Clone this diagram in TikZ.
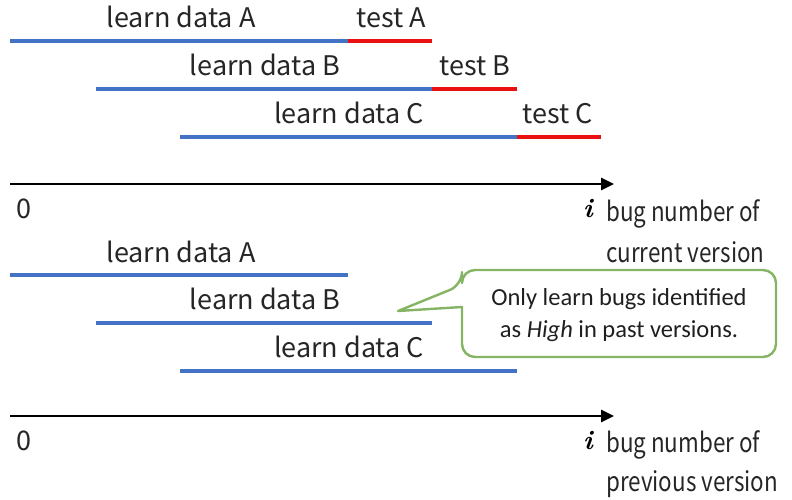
\documentclass[tikz,border=0pt]{standalone}
\usepackage{fontspec}
\usetikzlibrary{arrows.meta}
\newfontfamily\lblfont{Noto Sans CJK JP}
\newfontfamily\callfont{Carlito}
\definecolor{lineblue}{HTML}{4472C4}
\definecolor{linered}{HTML}{E81010}
\definecolor{callgreen}{HTML}{84B464}
\definecolor{txtgray}{HTML}{262626}
\newcommand{\narrowtxt}[1]{\scalebox{0.83}[1]{#1}}
\begin{document}
\begin{tikzpicture}[x=1pt,y=-1pt,
  lbl/.style={inner sep=0pt,anchor=base,text=txtgray,font=\lblfont\fontsize{27}{32}\selectfont},
  lblw/.style={lbl,anchor=base west},
  bluel/.style={draw=lineblue,line width=3.5pt},
  redl/.style={draw=linered,line width=3.5pt},
  axis/.style={draw=black,line width=2.6pt,-{Triangle[length=13pt,width=12pt]}},
  ivar/.style={inner sep=0pt,anchor=base,font=\fontsize{27}{30}\selectfont\bfseries\itshape}]
\useasboundingbox (0,0) rectangle (792,499);
% ---- top section ----
\coordinate (a0) at (10,41); \coordinate (a1) at (348,41); \coordinate (a2) at (432,41);
\coordinate (b0) at (96,89); \coordinate (b1) at (432,89); \coordinate (b2) at (517,89);
\coordinate (c0) at (180,137); \coordinate (c1) at (517,137); \coordinate (c2) at (601,137);
\draw[bluel] (a0) -- (a1); \draw[redl] (a1) -- (a2);
\draw[bluel] (b0) -- (b1); \draw[redl] (b1) -- (b2);
\draw[bluel] (c0) -- (c1); \draw[redl] (c1) -- (c2);
\node[lbl] (tla) at (181,27) {learn data A};
\node[lbl] (tta) at (391,27) {test A};
\node[lbl] (tlb) at (265,75) {learn data B};
\node[lbl] (ttb) at (475,75) {test B};
\node[lbl] (tlc) at (349,123) {learn data C};
\node[lbl] (ttc) at (558,123) {test C};
% ---- axis 1 ----
\coordinate (x10) at (10,184); \coordinate (x11) at (614,184);
\draw[axis] (x10) -- (x11);
\node[lbl] (z1) at (24,218) {0};
\node[ivar] (i1) at (588,217) {i};
\node[lblw] (bn1) at (606,221) {\narrowtxt{bug number of}};
\node[lblw] (cv1) at (606,262) {\narrowtxt{current version}};
% ---- bottom section ----
\coordinate (d0) at (10,275); \coordinate (d1) at (348,275);
\coordinate (e0) at (96,323); \coordinate (e1) at (432,323);
\coordinate (f0) at (180,371); \coordinate (f1) at (517,371);
\draw[bluel] (d0) -- (d1);
\draw[bluel] (e0) -- (e1);
\draw[bluel] (f0) -- (f1);
\node[lbl] (bla) at (181,262) {learn data A};
\node[lbl] (blb) at (265,309) {learn data B};
\node[lbl] (blc) at (349,357) {learn data C};
% ---- callout ----
\coordinate (tip) at (398,311);
\draw[callgreen,line width=2.4pt,fill=white,line join=round,rounded corners=13pt]
  (462,285) [sharp corners] -- (tip) -- (462,307) [rounded corners=13pt] -- (462,357) -- (776,357) -- (776,270) -- (462,270) -- cycle;
\node[inner sep=0pt,align=center,text=black!88,font=\callfont\fontsize{24.5}{32}\selectfont] (call) at (619,315)
  {Only learn bugs identified\\as \textit{High} in past versions.};
% ---- axis 2 ----
\coordinate (x20) at (10,416); \coordinate (x21) at (614,416);
\draw[axis] (x20) -- (x21);
\node[lbl] (z2) at (24,450) {0};
\node[ivar] (i2) at (588,449) {i};
\node[lblw] (bn2) at (606,452) {\narrowtxt{bug number of}};
\node[lblw] (pv2) at (606,491) {\narrowtxt{previous version}};
\end{tikzpicture}
\end{document}
